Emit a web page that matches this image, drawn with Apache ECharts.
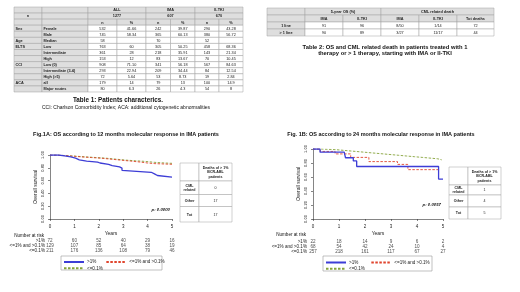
<!DOCTYPE html>
<html>
<head>
<meta charset="utf-8">
<script src="https://cdn.jsdelivr.net/npm/echarts/dist/echarts.min.js"></script>
<style>
  html, body { margin: 0; padding: 0; background: #fff; }
  #main { width: 520px; height: 292px; }
</style>
</head>
<body>
<div id="main"></div>
<script>
// ---- data ----
var groups = ['>1%', '<=1% and >0.1%', '<=0.1%'];
var years = [0, 1, 2, 3, 4, 5];

// number at risk
var riskA = [[72, 60, 52, 40, 29, 16], [129, 107, 85, 64, 38, 19], [211, 176, 136, 108, 79, 46]];
var riskB = [[22, 18, 14, 9, 6, 2], [68, 54, 42, 24, 10, 4], [257, 218, 161, 117, 67, 27]];

// KM curves [years, survival]
var kmA_gt1 = [[0, 1], [0.35, 0.985], [0.6, 0.97], [0.85, 0.95], [1.05, 0.925], [1.2, 0.905], [1.5, 0.89], [1.95, 0.875], [2.05, 0.855], [2.4, 0.835], [2.55, 0.815], [2.85, 0.795], [2.95, 0.76], [3.0, 0.73], [4.15, 0.70], [4.3, 0.68], [4.4, 0.655], [5.0, 0.655]];
var kmA_mid = [[0, 1], [0.25, 0.99], [0.6, 0.98], [1.0, 0.97], [1.3, 0.96], [1.7, 0.95], [2.1, 0.935], [2.5, 0.92], [2.9, 0.905], [3.3, 0.89], [3.7, 0.875], [4.0, 0.865], [4.3, 0.855], [5.0, 0.855]];
var kmA_low = [[0, 1], [0.3, 0.99], [0.7, 0.98], [1.1, 0.97], [1.5, 0.96], [1.9, 0.95], [2.3, 0.935], [2.7, 0.92], [3.1, 0.91], [3.5, 0.9], [3.9, 0.885], [4.3, 0.875], [4.7, 0.87], [5.0, 0.87]];
var kmB_gt1 = [[0, 1], [0.27, 0.955], [1.2, 0.93], [1.25, 0.875], [1.55, 0.83], [1.68, 0.75], [4.83, 0.57], [5.0, 0.57]];
var kmB_mid = [[0, 1], [0.28, 0.965], [0.85, 0.93], [1.45, 0.88], [2.15, 0.82], [3.25, 0.78], [3.65, 0.705], [4.85, 0.705]];
var kmB_low = [[0, 1], [0.3, 0.995], [0.6, 0.99], [0.9, 0.98], [1.2, 0.97], [1.5, 0.96], [1.8, 0.95], [2.1, 0.94], [2.4, 0.93], [2.7, 0.92], [3.0, 0.91], [3.3, 0.90], [3.6, 0.89], [3.9, 0.88], [4.2, 0.87], [4.5, 0.86], [4.8, 0.845], [4.95, 0.84]];

var pA = 'p: 0.0000';
var pB = 'p: 0.0057';

// table 1
var t1Rows = [
  ['', '', ['ALL', 2], ['IMA', 2], ['II-TKI', 2]],
  ['n', '', ['1277', 2], ['607', 2], ['670', 2]],
  ['', '', 'n', '%', 'n', '%', 'n', '%'],
  ['Sex', 'Female', '532', '41.66', '242', '39.87', '290', '43.28'],
  ['', 'Male', '745', '58.34', '365', '60.13', '380', '56.72'],
  ['Age', 'Median', '58', '', '70', '', '52', ''],
  ['ELTS', 'Low', '763', '60', '305', '50.25', '458', '68.36'],
  ['', 'Intermediate', '361', '28', '218', '35.91', '143', '21.34'],
  ['', 'High', '153', '12', '83', '13.67', '70', '10.45'],
  ['CCI', 'Low (0)', '908', '71.10', '341', '56.18', '567', '84.63'],
  ['', 'Intermediate (3-4)', '293', '22.94', '209', '34.44', '84', '12.54'],
  ['', 'High (>5)', '72', '5.64', '53', '8.73', '19', '2.84'],
  ['ACA', 'all', '179', '14', '79', '13', '100', '14.9'],
  ['', 'Major routes', '80', '6.3', '26', '4.3', '54', '8']
];
// table 2
var t2Rows = [
  ['', ['5-year OS (%)', 2], ['CML related death', 3]],
  ['', 'IMA', 'II-TKI', 'IMA', 'II-TKI', 'Tot deaths'],
  ['1 line', '91', '96', '8/50', '1/14', '72'],
  ['> 1 line', '90', '89', '3/27', '11/17', '44']
];
// death tables next to the curves
var dA = [['', 'Deaths of > 1%\nBCR-ABL\npatients'], ['CML\nrelated', '0'], ['Other', '17'], ['Tot', '17']];
var dB = [['', 'Deaths of > 1%\nBCR-ABL\npatients'], ['CML\nrelated', '1'], ['Other', '4'], ['Tot', '5']];

var FONT = 'Liberation Sans, Arial, sans-serif';
var colors = ['#3d3dd6', '#e0452e', '#86a33a'];

// ---- helpers ----
function table(x, y, colW, rowH, rows, hr, hc, fs, opt) {
  opt = opt || {};
  var els = [];
  var yy = y;
  rows.forEach(function (row, r) {
    var h = Array.isArray(rowH) ? rowH[r] : rowH;
    var c = 0, xx = x;
    row.forEach(function (cell) {
      var t = Array.isArray(cell) ? cell[0] : cell;
      var span = Array.isArray(cell) ? cell[1] : 1;
      var w = 0;
      for (var k = 0; k < span; k++) w += colW[c + k];
      var head = r < hr || c < hc;
      els.push({
        type: 'rect', silent: true,
        shape: { x: xx, y: yy, width: w, height: h },
        style: { fill: head && opt.grey !== false ? '#dedede' : '#fff', stroke: '#a0a0a0', lineWidth: 0.5 }
      });
      var left = c < hc && opt.leftCols && r >= hr;
      els.push({
        type: 'text', silent: true,
        x: left ? xx + 1.5 : xx + w / 2, y: yy + h / 2 + 0.3,
        style: {
          text: t, fontSize: fs, fontFamily: FONT, lineHeight: fs + 0.6,
          fontWeight: head ? 'bold' : 'normal', fill: '#222',
          align: left ? 'left' : 'center', verticalAlign: 'middle'
        }
      });
      c += span; xx += w;
    });
    yy += h;
  });
  return els;
}

function txt(x, y, s, fs, bold, align, extra) {
  var st = { text: s, fontSize: fs, fontFamily: FONT, fontWeight: bold ? 'bold' : 'normal',
    fill: '#111', align: align || 'center', verticalAlign: 'middle' };
  if (extra) for (var k in extra) st[k] = extra[k];
  return { type: 'text', silent: true, x: x, y: y, style: st };
}

function kmAxisX(grid) {
  return {
    gridIndex: grid, type: 'value', min: 0, max: 5, interval: 1, offset: 3,
    axisLine: { lineStyle: { color: '#333', width: 0.6 } },
    axisTick: { length: 2, lineStyle: { color: '#333', width: 0.6 } },
    axisLabel: { fontSize: 4.5, margin: 2, color: '#222', fontFamily: FONT },
    splitLine: { show: false },
    name: 'Years', nameLocation: 'middle', nameGap: 9,
    nameTextStyle: { fontSize: 5, color: '#222', fontFamily: FONT }
  };
}
function kmAxisY(grid) {
  return {
    gridIndex: grid, type: 'value', min: 0, max: 1, interval: 0.2, offset: 3,
    axisLine: { show: true, lineStyle: { color: '#333', width: 0.6 } },
    axisTick: { show: true, length: 2, lineStyle: { color: '#333', width: 0.6 } },
    axisLabel: { fontSize: 4, margin: 2, rotate: 90, color: '#222', fontFamily: FONT,
      formatter: function (v) { return v.toFixed(2); } },
    splitLine: { show: false },
    name: 'Overall survival', nameLocation: 'middle', nameGap: 9, nameRotate: 90,
    nameTextStyle: { fontSize: 5, color: '#222', fontFamily: FONT }
  };
}
function riskAxisX(grid) {
  return { gridIndex: grid, type: 'value', min: 0, max: 5, show: false };
}
function riskAxisY(grid, margin) {
  return {
    gridIndex: grid, type: 'category', data: groups, inverse: true,
    axisLine: { show: false }, axisTick: { show: false },
    axisLabel: { interval: 0, fontSize: 4.6, margin: margin, color: '#222', fontFamily: FONT }
  };
}
function kmSeries(data, g, axis) {
  return {
    type: 'line', name: groups[g], data: data, step: 'end', symbol: 'none',
    xAxisIndex: axis, yAxisIndex: axis, silent: true,
    lineStyle: { color: colors[g], width: g === 0 ? 1.3 : 0.9, type: g === 0 ? 'solid' : [2.5, 1.5] },
    itemStyle: { color: colors[g] }
  };
}
function riskSeries(rows, axis) {
  var d = [];
  rows.forEach(function (row, r) {
    row.forEach(function (v, i) { d.push([years[i], r, v]); });
  });
  return {
    type: 'scatter', data: d, xAxisIndex: axis, yAxisIndex: axis, silent: true,
    symbolSize: 1, itemStyle: { color: 'transparent' },
    label: { show: true, position: 'inside', fontSize: 4.6, color: '#222', fontFamily: FONT,
      formatter: function (p) { return p.value[2]; } }
  };
}
// legend icon: line only (tiny itemHeight keeps the symbol out of sight)
function legends(left, top, gap) {
  var base = { itemWidth: 20, itemHeight: 0.6, padding: 0, selectedMode: false,
    itemStyle: { opacity: 0, borderWidth: 0 },
    textStyle: { fontSize: 4.6, color: '#222', fontFamily: FONT, padding: [0, 0, 0, -2] } };
  return [
    Object.assign({ data: [groups[0], groups[1]], left: left, top: top, itemGap: gap }, base),
    Object.assign({ data: [groups[2]], left: left, top: top + 6.3 }, base)
  ];
}

var graphics = []
  .concat(table(14, 7, [28, 46, 29, 29, 24.5, 24.5, 24, 24], 6.07, t1Rows, 3, 2, 3.8, { leftCols: true }))
  .concat(table(267, 8, [38, 38, 38, 38, 38, 37], 7, t2Rows, 2, 1, 3.8))
  .concat(table(180, 163, [19, 33], [18, 13.5, 12, 15.5], dA, 1, 1, 3.6, { grey: false }))
  .concat(table(449, 167, [19, 33], [18, 10, 12, 12], dB, 1, 1, 3.6, { grey: false }))
  .concat([
    txt(118, 100, 'Table 1: Patients characterics.', 6.3, true),
    txt(126, 108, 'CCI: Charlson Comorbidity Index; ACA: additional cytogenetic abnormalities', 5),
    txt(385, 47, 'Table 2: OS and CML related death in patients treated with 1', 5.8, true),
    txt(385, 53.5, 'therapy or > 1 therapy, starting with IMA or II-TKI', 5.8, true),
    txt(126, 134, 'Fig.1A: OS according to 12 months molecular response in IMA patients', 5.5, true),
    txt(381, 134, 'Fig. 1B: OS according to 24 months molecular response in IMA patients', 5.5, true),
    txt(170, 210, pA, 4.3, true, 'right', { fontStyle: 'italic' }),
    txt(441, 205, pB, 4.3, true, 'right', { fontStyle: 'italic' }),
    txt(44, 236, 'Number at risk', 4.6, false, 'right'),
    txt(306, 235, 'Number at risk', 4.6, false, 'right'),
    { type: 'rect', silent: true, shape: { x: 61, y: 256, width: 101, height: 14 },
      style: { fill: 'none', stroke: '#999', lineWidth: 0.6 } },
    { type: 'rect', silent: true, shape: { x: 323, y: 256, width: 109, height: 15 },
      style: { fill: 'none', stroke: '#999', lineWidth: 0.6 } }
  ]);

var option = {
  animation: false,
  backgroundColor: '#fff',
  textStyle: { fontFamily: FONT },
  grid: [
    { left: 50, width: 122, top: 155, height: 64 },
    { left: 313, width: 130, top: 149, height: 70 },
    { left: 50, width: 122, top: 238.6, height: 14.1 },
    { left: 313, width: 130, top: 239.2, height: 15 }
  ],
  xAxis: [kmAxisX(0), kmAxisX(1), riskAxisX(2), riskAxisX(3)],
  yAxis: [kmAxisY(0), kmAxisY(1), riskAxisY(2, 5), riskAxisY(3, 6)],
  legend: legends(63, 259.5, 9).concat(legends(325, 260, 12)),
  series: [
    kmSeries(kmA_low, 2, 0), kmSeries(kmA_mid, 1, 0), kmSeries(kmA_gt1, 0, 0),
    kmSeries(kmB_low, 2, 1), kmSeries(kmB_mid, 1, 1), kmSeries(kmB_gt1, 0, 1),
    riskSeries(riskA, 2), riskSeries(riskB, 3)
  ],
  graphic: graphics
};

var myChart = echarts.init(document.getElementById('main'));
myChart.setOption(option);
</script>
</body>
</html>
